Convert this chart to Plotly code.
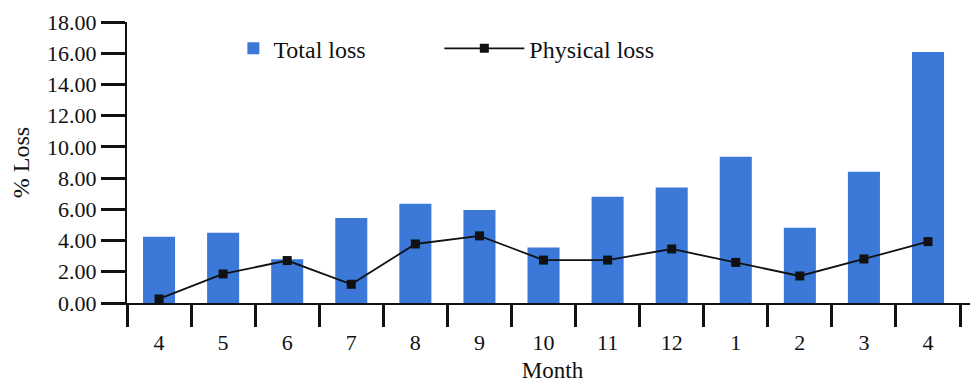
import plotly.graph_objects as go

months = ["4", "5", "6", "7", "8", "9", "10", "11", "12", "1", "2", "3", "4"]
total_loss = [4.25, 4.5, 2.8, 5.45, 6.35, 5.95, 3.55, 6.8, 7.4, 9.37, 4.82, 8.41, 16.08]
physical_loss = [0.26, 1.86, 2.72, 1.2, 3.78, 4.3, 2.75, 2.75, 3.46, 2.6, 1.73, 2.82, 3.93]

xpos = list(range(len(months)))
font = "Liberation Serif, Times New Roman, serif"

fig = go.Figure()
fig.add_trace(go.Bar(x=xpos, y=total_loss, name="Total loss", width=0.5, legend="legend",
                     marker=dict(color="#3b78d8", line=dict(width=0))))
fig.add_trace(go.Scatter(x=xpos, y=physical_loss, name="Physical loss", mode="lines+markers",
                         legend="legend2",
                         line=dict(color="#111111", width=1.8),
                         marker=dict(symbol="square", size=9, color="#111111")))

fig.update_layout(
    width=970, height=375,
    margin=dict(l=119, r=0, t=14, b=80),
    plot_bgcolor="white", paper_bgcolor="white",
    font=dict(family=font, size=22, color="#111111"),
    showlegend=True,
    legend=dict(x=0.125, y=0.905, xanchor="left", yanchor="middle",
                font=dict(size=24), itemwidth=30, bgcolor="rgba(0,0,0,0)"),
    legend2=dict(x=0.367, y=0.905, xanchor="left", yanchor="middle",
                 font=dict(size=24), itemwidth=80, bgcolor="rgba(0,0,0,0)"),
    bargap=0.5,
)
fig.update_xaxes(
    range=[-0.5, 12.78], tickvals=xpos, ticktext=months, ticks="",
    ticklabelstandoff=19, showline=True, linecolor="#111111", linewidth=2,
    showgrid=False, zeroline=False, automargin=False,
    minor=dict(tickvals=[i - 0.5 for i in range(len(months) + 1)], ticks="outside",
               ticklen=22, tickwidth=2.5, tickcolor="#111111", showgrid=False),
    title=dict(text="Month", standoff=8, font=dict(size=23)),
)
fig.update_yaxes(
    range=[0, 18], dtick=2, tickformat=".2f", ticks="outside", ticklen=24, tickwidth=2.5,
    tickcolor="#111111", showline=True, linecolor="#111111", linewidth=2,
    showgrid=False, zeroline=False, automargin=False,
    title=dict(text="% Loss", standoff=14, font=dict(size=24)),
)

fig.write_html("out.html")
